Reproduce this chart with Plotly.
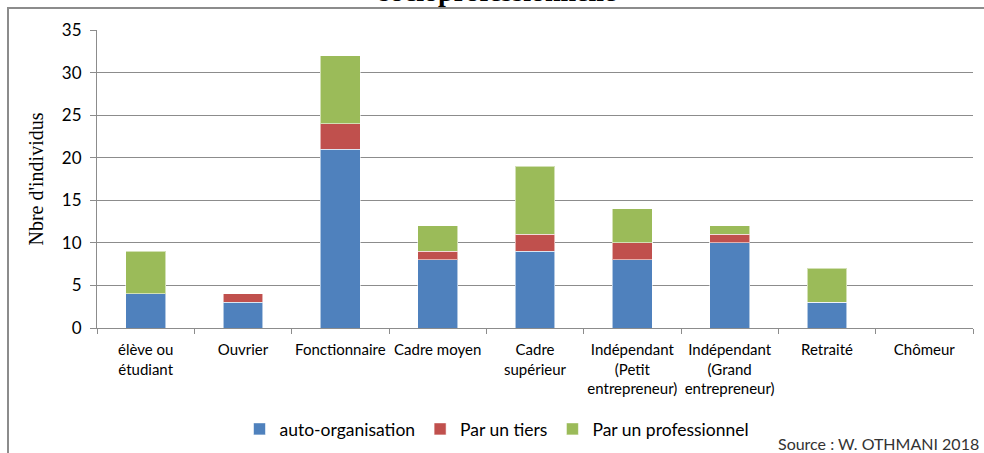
import plotly.graph_objects as go

# Socio-professional categories (x axis)
categories = [
    "élève ou<br>étudiant",
    "Ouvrier",
    "Fonctionnaire",
    "Cadre moyen",
    "Cadre<br>supérieur",
    "Indépendant<br>(Petit<br>entrepreneur)",
    "Indépendant<br>(Grand<br>entrepreneur)",
    "Retraité",
    "Chômeur",
]

# Number of individuals per mode of organisation
auto_organisation = [4, 3, 21, 8, 9, 8, 10, 3, 0]
par_un_tiers = [0, 1, 3, 1, 2, 2, 1, 0, 0]
par_un_professionnel = [5, 0, 8, 3, 8, 4, 1, 4, 0]

series_names = ["auto-organisation", "Par un tiers", "Par un professionnel"]
series_values = [auto_organisation, par_un_tiers, par_un_professionnel]
series_colors = ["#4F81BD", "#C0504D", "#9BBB59"]

y_ticks = [0, 5, 10, 15, 20, 25, 30, 35]

W, H = 984, 453
M_L, M_R, M_T, M_B = 97, 11, 30, 125
PW, PH = W - M_L - M_R, H - M_T - M_B

def px_x(p):
    return (p - M_L) / PW

def px_y(p):
    return (H - M_B - p) / PH

fig = go.Figure()
for name, vals, col in zip(series_names, series_values, series_colors):
    fig.add_trace(go.Bar(
        name=name, x=categories, y=vals,
        marker=dict(color=col, line=dict(color="rgba(255,255,255,0.55)", width=1)),
    ))

grey = "#8c8c8c"
sans = "Lato, Carlito, Calibri, sans-serif"
serif = "Liberation Serif, Times New Roman, serif"

fig.update_layout(
    barmode="stack",
    bargap=0.59,
    width=W, height=H,
    margin=dict(l=M_L, r=M_R, t=M_T, b=M_B, autoexpand=False),
    paper_bgcolor="white",
    plot_bgcolor="white",
    showlegend=True,
    legend=dict(
        orientation="h", x=px_x(497), xanchor="center",
        y=px_y(429), yanchor="middle", traceorder="normal",
        font=dict(family=sans, size=17.5, color="#000000"),
        itemwidth=30, tracegroupgap=0,
    ),
    xaxis=dict(
        automargin=False,
        showgrid=False, showline=True, linecolor=grey, linewidth=1,
        ticks="outside", tickson="boundaries", ticklen=5, tickcolor=grey,
        ticklabelstandoff=8,
        tickfont=dict(family=sans, size=15, color="#000000"), tickangle=0,
    ),
    yaxis=dict(
        automargin=False,
        range=[0, 35], tickvals=y_ticks, showgrid=True, gridcolor=grey, gridwidth=1,
        showline=True, linecolor=grey, linewidth=1,
        ticks="outside", ticklen=6, tickcolor=grey, ticklabelstandoff=5,
        tickfont=dict(family=sans, size=17, color="#000000"),
        zeroline=False,
        title=dict(text="Nbre d'individus",
                   font=dict(family=serif, size=20, color="#000000"),
                   standoff=12),
    ),
    shapes=[
        # chart frame
        dict(type="rect", xref="paper", yref="paper",
             x0=px_x(8), x1=px_x(1000), y0=px_y(470), y1=px_y(8),
             line=dict(color=grey, width=2), fillcolor="rgba(0,0,0,0)", layer="below"),
    ],
    annotations=[
        dict(text="<b>socioprofessionnelle</b>", xref="paper", yref="paper",
             x=px_x(497), y=px_y(9), xanchor="center", yanchor="bottom",
             showarrow=False,
             font=dict(family=serif, size=28, color="#000000")),
        dict(text="Source : W. OTHMANI 2018", xref="paper", yref="paper",
             x=px_x(981), y=px_y(443), xanchor="right", yanchor="middle",
             showarrow=False,
             font=dict(family=sans, size=16, color="#333333")),
    ],
)

fig.write_html("out.html")
